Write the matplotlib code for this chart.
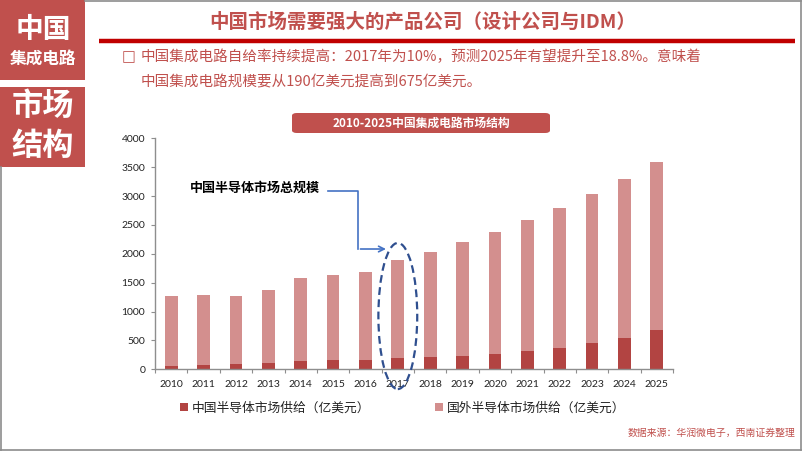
import matplotlib
matplotlib.use("Agg")
import matplotlib.pyplot as plt
import numpy as np
from matplotlib.patches import Rectangle, FancyBboxPatch, Ellipse
from matplotlib.lines import Line2D

plt.rcParams['font.family'] = ['Noto Sans CJK SC', 'DejaVu Sans']

# ---------------- data ----------------
years = ['2010', '2011', '2012', '2013', '2014', '2015', '2016', '2017',
         '2018', '2019', '2020', '2021', '2022', '2023', '2024', '2025']
china_supply = [52, 75, 92, 115, 139, 162, 167, 190,
                208, 231, 271, 317, 369, 450, 543, 675]
foreign_supply = [1218, 1212, 1184, 1265, 1437, 1471, 1524, 1700,
                  1830, 1968, 2113, 2263, 2431, 2592, 2753, 2909]
y_ticks = [0, 500, 1000, 1500, 2000, 2500, 3000, 3500, 4000]
series_names = ['中国半导体市场供给（亿美元）', '国外半导体市场供给（亿美元）']

W, H = 802, 451
def fx(px): return px / W
def fy(py): return 1 - py / H

RED = '#C0504D'
DARK = '#B24442'
LIGHT = '#D38F8E'

fig = plt.figure(figsize=(W / 100, H / 100), dpi=100)
fig.patch.set_facecolor('white')

# ---------------- frame ----------------
grey = '#8C8C8C'
fig.add_artist(Line2D([fx(85), fx(801)], [fy(1), fy(1)], color=grey, lw=1.2, transform=fig.transFigure))
fig.add_artist(Line2D([fx(800.5), fx(800.5)], [fy(0), fy(450)], color=grey, lw=1.2, transform=fig.transFigure))
fig.add_artist(Line2D([fx(0), fx(801)], [fy(449.5), fy(449.5)], color=grey, lw=1.2, transform=fig.transFigure))
fig.add_artist(Line2D([fx(1), fx(1)], [fy(167), fy(450)], color=grey, lw=1.2, transform=fig.transFigure))

# ---------------- left boxes ----------------
fig.add_artist(Rectangle((fx(0), fy(80)), fx(85), 80 / H, color=RED, transform=fig.transFigure, lw=0))
fig.add_artist(Rectangle((fx(0), fy(167)), fx(85), 80 / H, color=RED, transform=fig.transFigure, lw=0))
fig.text(fx(43), fy(30), '中国', color='white', fontsize=20, fontweight='bold', ha='center', va='center')
fig.text(fx(43), fy(59), '集成电路', color='white', fontsize=12, fontweight='bold', ha='center', va='center')
fig.text(fx(43), fy(106), '市场', color='white', fontsize=22.5, fontweight='bold', ha='center', va='center')
fig.text(fx(43), fy(146), '结构', color='white', fontsize=22.5, fontweight='bold', ha='center', va='center')

# ---------------- header ----------------
fig.text(fx(423), fy(22), '中国市场需要强大的产品公司（设计公司与IDM）', color=RED,
         fontsize=14, fontweight='bold', ha='center', va='center')
fig.add_artist(Line2D([fx(99), fx(795)], [fy(40.5), fy(40.5)], color='#C00000', lw=3.2,
                      transform=fig.transFigure, solid_capstyle='butt'))
fig.text(fx(122), fy(57), '□', color=RED, fontsize=10.5, ha='left', va='center',
         family=['DejaVu Sans'])
fig.text(fx(141), fy(57), '中国集成电路自给率持续提高：2017年为10%，预测2025年有望提升至18.8%。意味着',
         color=RED, fontsize=10.5, ha='left', va='center')
fig.text(fx(141), fy(82), '中国集成电路规模要从190亿美元提高到675亿美元。',
         color=RED, fontsize=10.5, ha='left', va='center')

# chart title banner
fig.add_artist(FancyBboxPatch((fx(292), fy(133)), fx(258), 20 / H,
                              boxstyle='round,pad=0,rounding_size=0.006',
                              color=RED, lw=0, transform=fig.transFigure))
fig.text(fx(421), fy(123.5), '2010-2025中国集成电路市场结构', color='white', fontsize=8.5,
         fontweight='bold', ha='center', va='center')

# ---------------- chart ----------------
ax = fig.add_axes([fx(155), fy(369.3), 518 / W, 231 / H])
x = np.arange(len(years))
bw = 0.39
b1 = ax.bar(x, china_supply, width=bw, color=DARK, label=series_names[0], zorder=2)
b2 = ax.bar(x, foreign_supply, width=bw, bottom=china_supply, color=LIGHT, label=series_names[1], zorder=2)
ax.set_xlim(-0.5, len(years) - 0.5)
ax.set_ylim(0, 4000)

axis_c = '#8E8E8E'
for s in ['top', 'right']:
    ax.spines[s].set_visible(False)
for s in ['left', 'bottom']:
    ax.spines[s].set_color(axis_c)
    ax.spines[s].set_linewidth(1.0)

ax.set_yticks(y_ticks)
ax.set_yticklabels([str(v) for v in y_ticks], family=['Lato', 'DejaVu Sans'], fontsize=7.5, color='#222222')
ax.tick_params(axis='y', direction='out', length=3, width=0.8, color=axis_c, pad=4)

ax.set_xticks(np.arange(-0.5, len(years), 1))
ax.set_xticklabels([])
ax.tick_params(axis='x', which='major', direction='out', length=3, width=0.8, color=axis_c)
ax.set_xticks(x, minor=True)
ax.set_xticklabels(years, minor=True, family=['Lato', 'DejaVu Sans'], fontsize=7.5, color='#222222')
ax.tick_params(axis='x', which='minor', length=0, pad=8)

# dashed ellipse around 2017
ell = Ellipse((7, 923), width=1.2, height=2530, fill=False, edgecolor='#2F4F8F',
              lw=1.6, linestyle=(0, (3.5, 2)), clip_on=False, zorder=5)
ax.add_patch(ell)

# annotation text and arrow
fig.text(fx(190), fy(188), '中国半导体市场总规模', color='black', fontsize=9.4,
         fontweight='bold', ha='left', va='center')
blue = '#4472C4'
ax.plot([4.84, 5.76, 5.76], [3093, 3093, 2083], color=blue, lw=1.2, clip_on=False, zorder=6)
ax.annotate('', xy=(6.72, 2083), xytext=(5.76, 2083),
            arrowprops=dict(arrowstyle='->', color=blue, lw=1.2, mutation_scale=10),
            annotation_clip=False, zorder=6)

# legend
leg = fig.legend(handles=[b1, b2], labels=series_names, loc='center left',
                 bbox_to_anchor=(fx(180), fy(408)), ncol=2, frameon=False,
                 fontsize=9.2, handlelength=0.65, handleheight=0.65, handletextpad=0.3,
                 columnspacing=5.0, borderpad=0, borderaxespad=0)
for t in leg.get_texts():
    t.set_color('#222222')

# source
fig.text(fx(795), fy(433), '数据来源：华润微电子，西南证券整理', color='#C0504D', fontsize=7.1,
         ha='right', va='center')

fig.savefig('out.png', dpi=100, facecolor='white')
